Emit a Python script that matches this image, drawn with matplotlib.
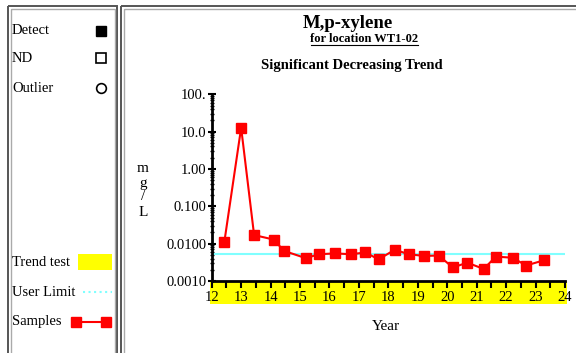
import matplotlib
matplotlib.use("Agg")
import matplotlib.pyplot as plt
from matplotlib.patches import Rectangle
from matplotlib.ticker import FixedLocator, LogLocator, NullFormatter

plt.rcParams["font.family"] = ["Liberation Serif", "DejaVu Serif"]

# sample dates (decimal year, 20xx) and concentrations (mg/L)
years = [12.43, 13.0, 13.44, 14.1, 14.46, 15.19, 15.65, 16.2, 16.72, 17.22,
         17.67, 18.22, 18.69, 19.21, 19.71, 20.19, 20.68, 21.24, 21.65,
         22.22, 22.68, 23.29]
conc = [0.0112, 12.7, 0.017, 0.0129, 0.0064, 0.0041, 0.0052, 0.0055, 0.0052,
        0.0058, 0.0038, 0.0069, 0.0052, 0.0047, 0.0048, 0.0023, 0.0031,
        0.0021, 0.0045, 0.0042, 0.0026, 0.0036]
user_limit = 0.0052

x_ticks = list(range(12, 25))
y_ticks = [0.001, 0.01, 0.1, 1, 10, 100]
y_labels = ["0.0010", "0.0100", "0.100", "1.00", "10.0", "100."]

W, H = 576, 353
fig = plt.figure(figsize=(W / 100, H / 100), dpi=100)

# background layer in pixel coordinates for panels and legend
bg = fig.add_axes([0, 0, 1, 1])
bg.set_xlim(0, W)
bg.set_ylim(H, 0)
bg.axis("off")

# panel frames (double grey border)
for x0, y0, x1, y1 in [(8, 6, 117, 360), (121, 6, 590, 360)]:
    bg.add_patch(Rectangle((x0, y0), x1 - x0, y1 - y0, fill=False,
                           ec="#555555", lw=1.4))
    bg.add_patch(Rectangle((x0 + 2.5, y0 + 2.5), x1 - x0 - 5, y1 - y0 - 5,
                           fill=False, ec="#aaaaaa", lw=1.0))

# legend
fs_leg = 10.5
bg.text(12, 31, "Detect", fontsize=fs_leg, va="center")
bg.plot([101], [31], marker="s", ms=7, color="black")
bg.text(12, 58, "ND", fontsize=fs_leg, va="center")
bg.plot([101], [58], marker="s", ms=7, mfc="white", mec="black", mew=1.2)
bg.text(12, 88, "Outlier", fontsize=fs_leg, va="center")
bg.plot([101], [88], marker="o", ms=7, mfc="white", mec="black", mew=1.2)

bg.text(12, 262, "Trend test", fontsize=fs_leg, va="center")
bg.add_patch(Rectangle((78, 254), 34, 16, color="#ffff00", lw=0))
bg.text(12, 292, "User Limit", fontsize=fs_leg, va="center")
bg.plot([83, 112], [292, 292], color="#80ffff", lw=1.5, ls=":")
bg.text(12, 322, "Samples", fontsize=fs_leg, va="center")
bg.plot([76, 106], [322, 322], color="red", lw=1.5, marker="s", ms=7.5)

# titles
bg.text(348, 24, "M,p-xylene", fontsize=13.5, weight="bold",
        ha="center", va="center")
bg.text(364, 39, "for location WT1-02", fontsize=9, weight="bold",
        ha="center", va="center")
bg.plot([311, 418], [45, 45], color="black", lw=0.8)
bg.text(352, 66, "Significant Decreasing Trend", fontsize=10.5,
        weight="bold", ha="center", va="center")

# y label stacked vertically
for ch, yy in zip(["m", "g", "/", "L"], [168, 183, 197, 212]):
    bg.text(143, yy, ch, fontsize=11, ha="center", va="center")

bg.text(386, 327, "Year", fontsize=11, ha="center", va="center")

# main plot
ax = fig.add_axes([211.7 / W, 1 - 281 / H, (565 - 211.7) / W, (281 - 94.3) / H])
ax.patch.set_alpha(0)
ax.set_yscale("log")
ax.set_xlim(12, 24)
ax.set_ylim(0.001, 100)

# trend test band below the x axis
ax.add_patch(Rectangle((-0.005, -0.123), 1.01, 0.123, transform=ax.transAxes,
                       color="#ffff00", lw=0, clip_on=False, zorder=0))

ax.axhline(user_limit, color="#80ffff", lw=1.5, zorder=2)
ax.plot(years, conc, color="red", lw=1.5, marker="s", ms=7, zorder=3)

ax.spines["top"].set_visible(False)
ax.spines["right"].set_visible(False)
ax.spines["left"].set_linewidth(2)
ax.spines["bottom"].set_linewidth(2)

ax.set_xticks(x_ticks)
ax.set_xticklabels([str(t) for t in x_ticks], fontsize=10.5)
ax.xaxis.set_minor_locator(FixedLocator([t + 0.5 for t in x_ticks[:-1]]))
ax.tick_params(axis="x", which="both", direction="out", length=5, width=1.5,
               pad=2)

ax.set_yticks(y_ticks)
ax.set_yticklabels(y_labels, fontsize=10.5)
ax.yaxis.set_minor_locator(LogLocator(base=10, subs=range(2, 10)))
ax.yaxis.set_minor_formatter(NullFormatter())
ax.tick_params(axis="y", which="major", direction="inout", length=6, width=1.5,
               pad=1)
ax.tick_params(axis="y", which="minor", direction="inout", length=3, width=1)

fig.savefig("out.png", dpi=100)
